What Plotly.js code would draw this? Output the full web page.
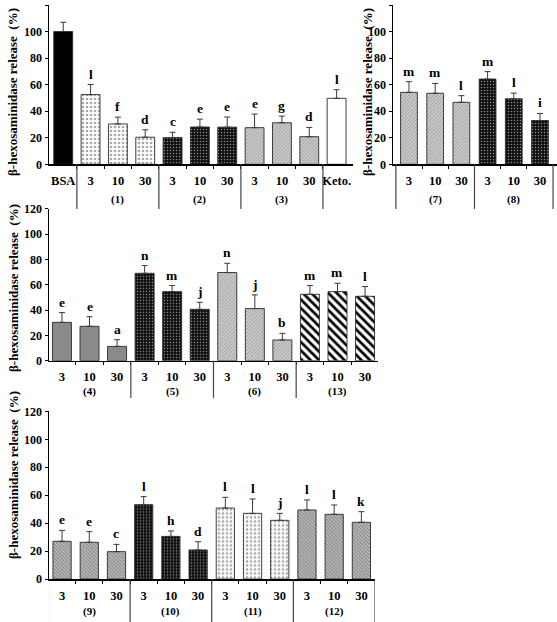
<!DOCTYPE html>
<html><head><meta charset="utf-8">
<script src="https://cdn.plot.ly/plotly-3.0.1.min.js"></script>
<style>html,body{margin:0;padding:0;background:#fff}#chart{width:557px;height:622px}</style>
</head><body><div id="chart"></div>
<script>
// ---------- DATA ----------
// Panel A (top left)
const labelsA  = ['BSA','3','10','30','3','10','30','3','10','30','Keto.'];
const groupsA  = ['','(1)','(1)','(1)','(2)','(2)','(2)','(3)','(3)','(3)',''];
const valuesA  = [100,52.5,30.4,20.4,20.1,28.1,28.0,27.6,31.3,20.8,49.7];
const errorsA  = [7.0,7.6,5.1,5.6,4.0,5.9,7.6,10.2,5.0,7.0,6.5];
const lettersA = ['','l','f','d','c','e','e','e','g','d','l'];

// Panel B (top right)
const labelsB  = ['3','10','30','3','10','30'];
const groupsB  = ['(7)','(7)','(7)','(8)','(8)','(8)'];
const valuesB  = [54.2,53.5,46.7,64.2,49.4,33.0];
const errorsB  = [8.0,7.4,5.0,5.6,4.2,5.3];
const lettersB = ['m','m','l','m','l','i'];

// Panel C (middle)
const labelsC  = ['3','10','30','3','10','30','3','10','30','3','10','30'];
const groupsC  = ['(4)','(4)','(4)','(5)','(5)','(5)','(6)','(6)','(6)','(13)','(13)','(13)'];
const valuesC  = [30.3,27.2,11.3,69.1,54.6,40.6,69.7,41.2,16.4,52.5,54.6,50.9];
const errorsC  = [7.7,7.6,5.3,6.1,4.8,5.6,7.3,10.8,5.2,6.9,6.6,7.7];
const lettersC = ['e','e','a','n','m','j','n','j','b','m','m','l'];

// Panel D (bottom)
const labelsD  = ['3','10','30','3','10','30','3','10','30','3','10','30'];
const groupsD  = ['(9)','(9)','(9)','(10)','(10)','(10)','(11)','(11)','(11)','(12)','(12)','(12)'];
const valuesD  = [27.0,26.3,19.6,53.2,30.5,20.8,50.8,47.0,42.0,49.4,46.3,40.6];
const errorsD  = [7.8,7.6,5.2,5.8,3.9,5.9,7.7,10.3,5.0,7.2,6.7,7.6];
const lettersD = ['e','e','c','l','h','d','l','l','j','l','l','k'];

const yTitle = 'β-hexosaminidase release  (%)';

// ---------- STYLES ----------
const FONT = 'Liberation Serif, Times New Roman, serif';
const lightDots = {color:'#ffffff', pattern:{shape:'.', bgcolor:'#ffffff', fgcolor:'#a8a8a8', size:4, solidity:0.35, fillmode:'replace'}};
const darkDots  = {color:'#111111', pattern:{shape:'.', bgcolor:'#111111', fgcolor:'#8a8a8a', size:3, solidity:0.2, fillmode:'replace'}};
const lightHatch= {color:'#cccccc', pattern:{shape:'/', bgcolor:'#d2d2d2', fgcolor:'#9c9c9c', size:2.5, solidity:0.4, fillmode:'replace'}};
const grayHatch = {color:'#b8b8b8', pattern:{shape:'\\', bgcolor:'#c2c2c2', fgcolor:'#858585', size:2.5, solidity:0.45, fillmode:'replace'}};
const styles = {
  'BSA':  {color:'#000000'},
  'Keto.':{color:'#ffffff'},
  '(1)': lightDots, '(11)': lightDots,
  '(2)': darkDots, '(5)': darkDots, '(8)': darkDots, '(10)': darkDots,
  '(3)': lightHatch, '(6)': lightHatch, '(7)': lightHatch,
  '(4)': {color:'#8a8a8a'},
  '(9)': grayHatch, '(12)': grayHatch,
  '(13)': {color:'#ffffff', pattern:{shape:'\\', bgcolor:'#ffffff', fgcolor:'#000000', size:6, solidity:0.45, fillmode:'replace'}}
};

const W = 557, H = 622;
const panels = [
  {id:'', labels:labelsA, groups:groupsA, values:valuesA, errors:errorsA, letters:lettersA,
   xd:[49/W, 353/W], yd:[1-164.3/H, 1-5/H], range:[-0.52,10.6], bw:0.69, div:-0.28, gy:-35, tx:13, ty:92},
  {id:'2', labels:labelsB, groups:groupsB, values:valuesB, errors:errorsB, letters:lettersB,
   xd:[393/W, 1], yd:[1-164.3/H, 1-5/H], range:[-0.61,5.65], bw:0.64, div:-0.28, gy:-35, tx:368, ty:92},
  {id:'3', labels:labelsC, groups:groupsC, values:valuesC, errors:errorsC, letters:lettersC,
   xd:[49/W, 378/W], yd:[1-360.7/H, 1-208.9/H], range:[-0.47,11.47], bw:0.69, div:-0.245, gy:-31, tx:13, ty:288},
  {id:'4', labels:labelsD, groups:groupsD, values:valuesD, errors:errorsD, letters:lettersD,
   xd:[49/W, 375/W], yd:[1-579/H, 1-411.4/H], range:[-0.48,11.5], bw:0.67, div:-0.3, gy:-32, tx:13, ty:475}
];

const traces = [], annotations = [], shapes = [];
const layout = {
  width:W, height:H, margin:{l:0,r:0,t:0,b:0}, showlegend:false, barmode:'overlay',
  paper_bgcolor:'#fff', plot_bgcolor:'rgba(0,0,0,0)', font:{family:FONT, color:'#000'}
};

panels.forEach(p => {
  const xa = 'x'+p.id, ya = 'y'+p.id;
  const n = p.values.length;
  const idx = p.values.map((_,i)=>i);
  const keys = [];
  idx.forEach(i => { const k = p.groups[i] || p.labels[i]; if (!keys.includes(k)) keys.push(k); });
  keys.forEach(k => {
    const ii = idx.filter(i => (p.groups[i] || p.labels[i]) === k);
    const st = styles[k];
    const marker = Object.assign({}, st, {line:{color:'#2a2a2a', width:0.9}});
    traces.push({
      type:'bar', x:ii, y:ii.map(i=>p.values[i]), width:p.bw, xaxis:xa, yaxis:ya,
      marker:marker, hoverinfo:'skip',
      error_y:{type:'data', symmetric:false, array:ii.map(i=>p.errors[i]), arrayminus:ii.map(()=>0),
               color:'#3a3a3a', thickness:1, width:3}
    });
  });
  idx.forEach(i => {
    if (!p.letters[i]) return;
    annotations.push({xref:xa, yref:ya, x:i, y:p.values[i]+p.errors[i], text:p.letters[i],
      showarrow:false, yanchor:'bottom', yshift:1, font:{family:FONT, size:13.5, weight:'bold', color:'#000'}});
  });
  const uniq = [];
  idx.forEach(i => { const g = p.groups[i]; if (g && !uniq.includes(g)) uniq.push(g); });
  uniq.forEach(g => {
    const ii = idx.filter(i => p.groups[i] === g);
    const mid = ii.reduce((a,b)=>a+b,0)/ii.length;
    annotations.push({xref:xa, yref:ya+' domain', x:mid, y:0, yshift:p.gy, yanchor:'middle', text:g,
      showarrow:false, font:{family:FONT, size:11, weight:'bold', color:'#000'}});
  });
  for (let i = 0; i <= n; i++) {
    const l = i>0 ? p.groups[i-1] : '';
    const r = i<n ? p.groups[i] : '';
    if ((l || r) && l !== r) {
      shapes.push({type:'line', xref:xa, yref:ya+' domain', x0:i-0.5, x1:i-0.5, y0:0, y1:p.div,
        line:{color:'#444', width:1.2}});
    }
  }
  const bnds = []; for (let i = 0; i < n-1; i++) bnds.push(i+0.5);
  layout['xaxis'+p.id] = {
    domain:p.xd, anchor:ya, range:p.range, showgrid:false, zeroline:false,
    showline:true, linecolor:'#000', linewidth:1.5,
    tickmode:'array', tickvals:idx, ticktext:p.labels, ticks:'', ticklabelstandoff:4,
    tickfont:{family:FONT, size:12.5, weight:'bold', color:'#000'},
    minor:{tickmode:'array', tickvals:bnds, ticks:'outside', ticklen:3, tickcolor:'#000', tickwidth:1},
    fixedrange:true
  };
  layout['yaxis'+p.id] = {
    domain:p.yd, anchor:xa, range:[0,120], dtick:20, tick0:0, showgrid:false, zeroline:false,
    showline:true, linecolor:'#000', linewidth:1.5, ticks:'outside', ticklen:3, tickcolor:'#000',
    tickfont:{family:FONT, size:12, weight:'bold', color:'#000'}, fixedrange:true
  };
  annotations.push({xref:'paper', yref:'paper', x:p.tx/W, y:1-p.ty/H, text:yTitle, textangle:-90,
    showarrow:false, xanchor:'center', yanchor:'middle', font:{family:FONT, size:13, weight:'bold', color:'#000'}});
});

layout.annotations = annotations;
layout.shapes = shapes;
Plotly.newPlot('chart', traces, layout, {staticPlot:true, displayModeBar:false});
</script></body></html>
